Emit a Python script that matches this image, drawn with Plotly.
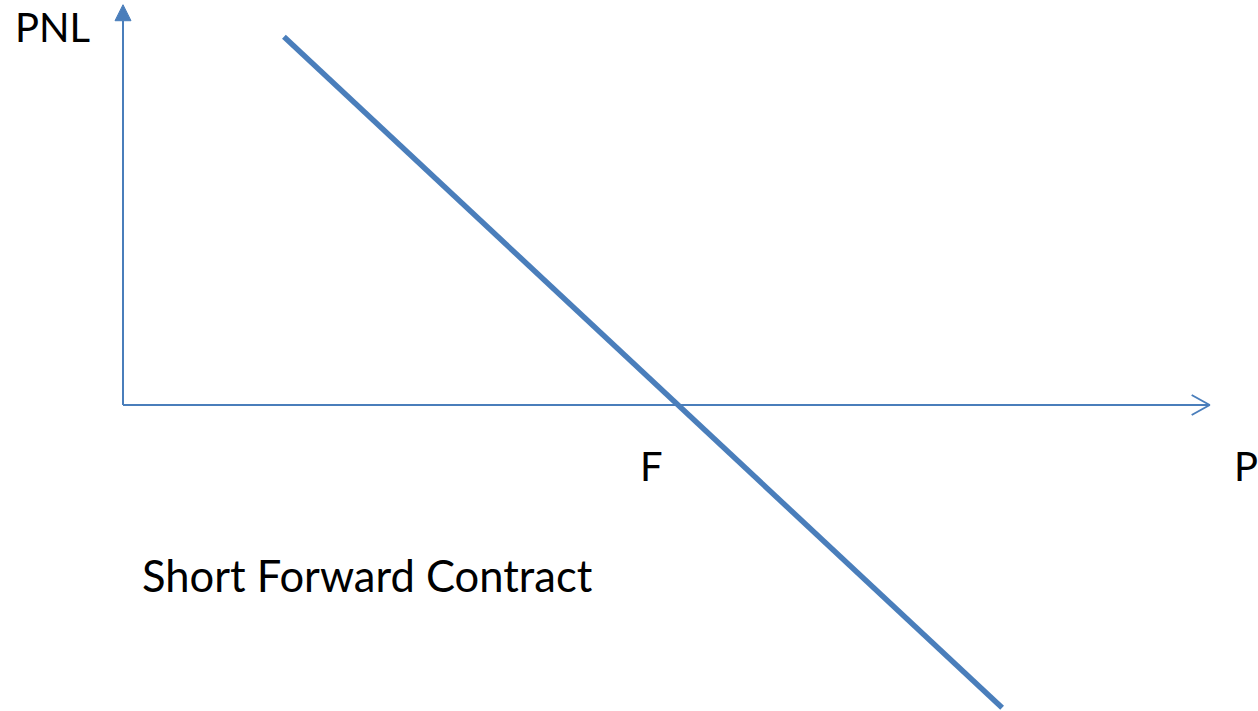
import plotly.graph_objects as go

# payoff of a short forward: pnl = F - P
F = 50
price = [14.5, 79.2]
pnl = [F - p for p in price]

# axis extents (data units)
x_axis_end = 97.9
y_axis_end = 38.6

title = "Short Forward Contract"
x_label = "P"
y_label = "PNL"
f_label = "F"

BLUE = "#4a7ebb"
W, H = 1258, 711
# pixels per data unit
sx, sy = 11.1, 10.37
x0_px, y0_px = 123, 405

fig = go.Figure()

# axes
fig.add_trace(go.Scatter(x=[0, x_axis_end], y=[0, 0], mode="lines",
                         line=dict(color=BLUE, width=2), hoverinfo="skip"))
fig.add_trace(go.Scatter(x=[0, 0], y=[0, y_axis_end - 16 / sy], mode="lines",
                         line=dict(color=BLUE, width=2), hoverinfo="skip"))

# open chevron on P axis
fig.add_trace(go.Scatter(
    x=[x_axis_end - 18 / sx, x_axis_end, x_axis_end - 18 / sx],
    y=[10 / sy, 0, -10 / sy], mode="lines",
    line=dict(color=BLUE, width=2), hoverinfo="skip"))

# filled triangle on PNL axis
fig.add_trace(go.Scatter(
    x=[-8 / sx, 0, 8 / sx, -8 / sx],
    y=[y_axis_end - 16 / sy, y_axis_end, y_axis_end - 16 / sy, y_axis_end - 16 / sy],
    mode="lines", fill="toself", fillcolor=BLUE,
    line=dict(color=BLUE, width=1), hoverinfo="skip"))

# payoff line
fig.add_trace(go.Scatter(x=price, y=pnl, mode="lines",
                         line=dict(color=BLUE, width=5.5), hoverinfo="skip"))

font = dict(family="Lato, Carlito, Calibri, sans-serif", size=40, color="black")
fig.add_annotation(x=-110 / sx, y=y0_px / sy, text=y_label,
                   showarrow=False, font=font, xanchor="left", yanchor="top",
                   yshift=-1)
fig.add_annotation(x=F - 2.4, y=0, text=f_label, showarrow=False, font=font,
                   xanchor="center", yanchor="top", yshift=-35)
fig.add_annotation(x=(1246 - 123) / sx, y=0, text=x_label, showarrow=False,
                   font=font, xanchor="center", yanchor="top", yshift=-35)
fig.add_annotation(x=17 / sx, y=-170 / sy, text=title, showarrow=False,
                   font=dict(font, size=43.5), xanchor="left", yanchor="middle")

fig.update_layout(
    width=W, height=H,
    margin=dict(l=0, r=0, t=0, b=0),
    paper_bgcolor="white", plot_bgcolor="white",
    showlegend=False,
    xaxis=dict(range=[-x0_px / sx, (W - x0_px) / sx], visible=False),
    yaxis=dict(range=[-(H - y0_px) / sy, y0_px / sy], visible=False),
)

# drop the default 8px body margin so the figure fills the window
fig.write_html("out.html",
               config={"displayModeBar": False},
               post_script="document.body.style.margin='0';"
                           "document.body.style.overflow='hidden';")
